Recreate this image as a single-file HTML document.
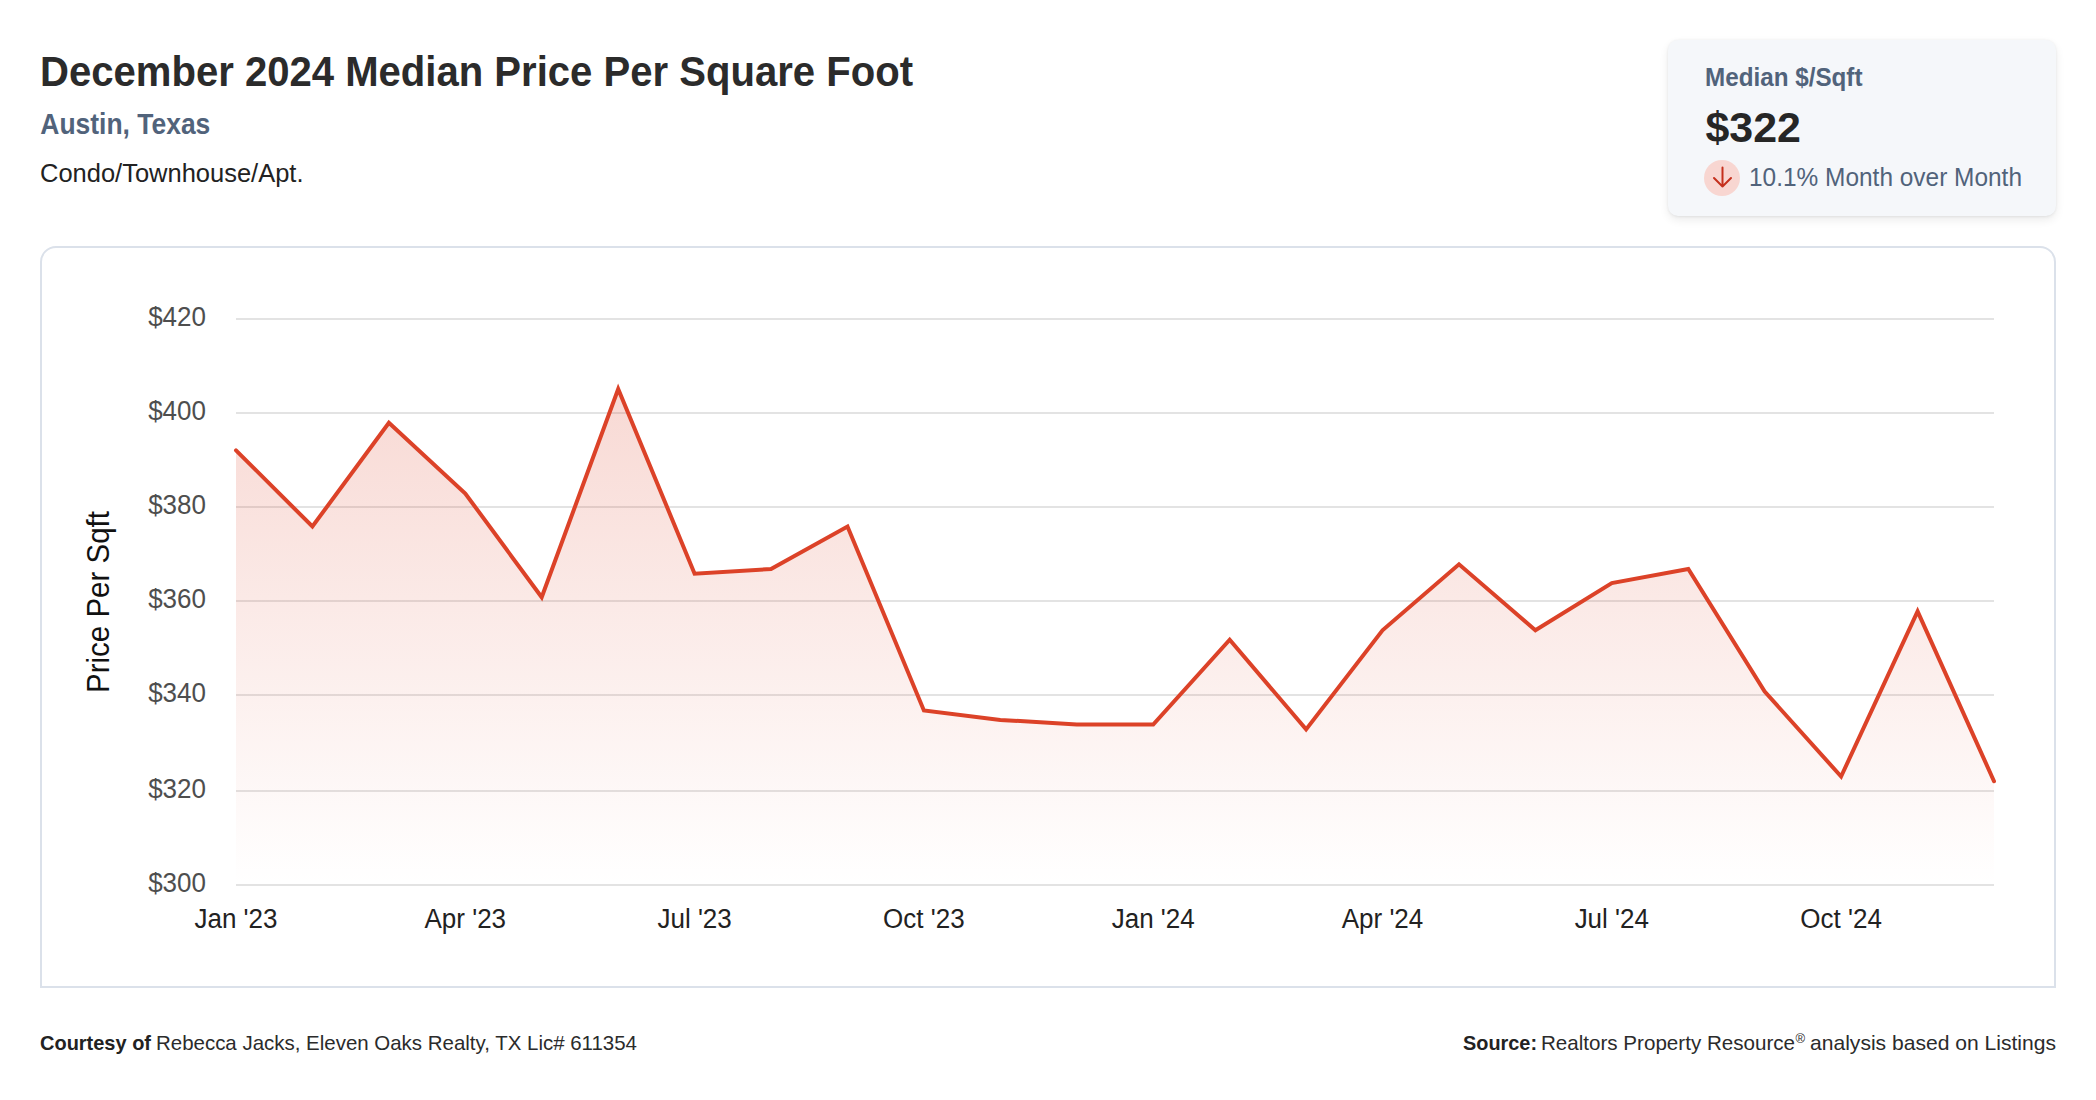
<!DOCTYPE html>
<html><head><meta charset="utf-8">
<style>
html,body{margin:0;padding:0;background:#fff;}
body{width:2096px;height:1100px;position:relative;overflow:hidden;font-family:"Liberation Sans",sans-serif;}
.card{position:absolute;left:1668px;top:40px;width:388px;height:176px;background:#f5f7fa;border-radius:10px;box-shadow:0 0 3px rgba(0,0,0,.06),0 4px 10px rgba(0,0,0,.08),0 2px 4px -2px rgba(0,0,0,.06);}
.frame{position:absolute;left:40px;top:246px;width:2016px;height:742px;box-sizing:border-box;border:2px solid #dbe1ea;border-bottom-left-radius:0;border-bottom-right-radius:0;border-top-left-radius:16px;border-top-right-radius:16px;}
svg{position:absolute;left:0;top:0;}
text{font-family:"Liberation Sans",sans-serif;}
</style></head>
<body>
<div class="card"></div>
<div class="frame"></div>
<svg width="2096" height="1100" viewBox="0 0 2096 1100">
<defs>
<linearGradient id="fill" x1="0" y1="389" x2="0" y2="885" gradientUnits="userSpaceOnUse">
<stop offset="0" stop-color="#dc4228" stop-opacity="0.2"/>
<stop offset="1" stop-color="#dc4228" stop-opacity="0"/>
</linearGradient>
</defs>
<!-- header -->
<text x="40" y="86" font-size="42" font-weight="bold" fill="#2b2b2b" textLength="873" lengthAdjust="spacingAndGlyphs">December 2024 Median Price Per Square Foot</text>
<text x="40.3" y="134" font-size="29" font-weight="bold" fill="#51637b" textLength="170" lengthAdjust="spacingAndGlyphs">Austin, Texas</text>
<text x="40" y="181.5" font-size="25" fill="#222" textLength="263.5" lengthAdjust="spacingAndGlyphs">Condo/Townhouse/Apt.</text>

<!-- card -->
<text x="1705" y="86" font-size="25" font-weight="bold" fill="#51637b" textLength="157.5" lengthAdjust="spacingAndGlyphs">Median $/Sqft</text>
<text x="1705.5" y="142" font-size="43" font-weight="bold" fill="#262626" textLength="95.5" lengthAdjust="spacingAndGlyphs">$322</text>
<circle cx="1722" cy="178" r="18" fill="#f8d6d1"/>
<path d="M1722.5 167.5 V186.5 M1714 178 L1722.5 186.5 L1731 178" fill="none" stroke="#c5301d" stroke-width="2" stroke-linecap="round" stroke-linejoin="round"/>
<text x="1749" y="186" font-size="25.5" fill="#51637b" textLength="273" lengthAdjust="spacingAndGlyphs">10.1% Month over Month</text>

<!-- grid -->
<g fill="#e3e3e3">
<rect x="236" y="318" width="1758" height="2"/>
<rect x="236" y="412" width="1758" height="2"/>
<rect x="236" y="506" width="1758" height="2"/>
<rect x="236" y="600" width="1758" height="2"/>
<rect x="236" y="694" width="1758" height="2"/>
<rect x="236" y="790" width="1758" height="2"/>
<rect x="236" y="884" width="1758" height="2"/>
</g>

<!-- area + line -->
<path d="M236,450.3 L312.4,526.5 L388.9,422.8 L465.3,493.5 L541.7,597.3 L618.2,389 L694.6,573.7 L771.0,569.0 L847.5,526.5 L923.9,710.5 L1000.3,719.9 L1076.8,724.6 L1153.2,724.6 L1229.7,639.7 L1306.1,729.4 L1382.5,630.3 L1459.0,564.3 L1535.4,630.3 L1611.8,583.1 L1688.3,569.0 L1764.7,691.6 L1841.1,776.5 L1917.6,611.4 L1994,781.2 L1994,885 L236,885 Z" fill="url(#fill)"/>
<polyline points="236,450.3 312.4,526.5 388.9,422.8 465.3,493.5 541.7,597.3 618.2,389 694.6,573.7 771.0,569.0 847.5,526.5 923.9,710.5 1000.3,719.9 1076.8,724.6 1153.2,724.6 1229.7,639.7 1306.1,729.4 1382.5,630.3 1459.0,564.3 1535.4,630.3 1611.8,583.1 1688.3,569.0 1764.7,691.6 1841.1,776.5 1917.6,611.4 1994,781.2" fill="none" stroke="#dc4228" stroke-width="4" stroke-linejoin="miter" stroke-linecap="round"/>

<!-- y labels -->
<g font-size="27.4" fill="#4e4e4e" text-anchor="end">
<text x="206" y="326" textLength="57.84" lengthAdjust="spacingAndGlyphs">$420</text>
<text x="206" y="420" textLength="57.84" lengthAdjust="spacingAndGlyphs">$400</text>
<text x="206" y="514" textLength="57.84" lengthAdjust="spacingAndGlyphs">$380</text>
<text x="206" y="608" textLength="57.84" lengthAdjust="spacingAndGlyphs">$360</text>
<text x="206" y="702" textLength="57.84" lengthAdjust="spacingAndGlyphs">$340</text>
<text x="206" y="798" textLength="57.84" lengthAdjust="spacingAndGlyphs">$320</text>
<text x="206" y="892" textLength="57.84" lengthAdjust="spacingAndGlyphs">$300</text>
</g>
<!-- x labels -->
<g font-size="27" fill="#222" text-anchor="middle">
<text x="236" y="928" textLength="83.03" lengthAdjust="spacingAndGlyphs">Jan '23</text>
<text x="465.3" y="928" textLength="81.58" lengthAdjust="spacingAndGlyphs">Apr '23</text>
<text x="694.6" y="928" textLength="74.34" lengthAdjust="spacingAndGlyphs">Jul '23</text>
<text x="923.9" y="928" textLength="81.56" lengthAdjust="spacingAndGlyphs">Oct '23</text>
<text x="1153.2" y="928" textLength="83.03" lengthAdjust="spacingAndGlyphs">Jan '24</text>
<text x="1382.5" y="928" textLength="81.58" lengthAdjust="spacingAndGlyphs">Apr '24</text>
<text x="1611.8" y="928" textLength="74.34" lengthAdjust="spacingAndGlyphs">Jul '24</text>
<text x="1841.1" y="928" textLength="81.56" lengthAdjust="spacingAndGlyphs">Oct '24</text>
</g>
<text transform="translate(109,602) rotate(-90)" font-size="32" fill="#111" text-anchor="middle" textLength="182" lengthAdjust="spacingAndGlyphs">Price Per Sqft</text>

<!-- footer -->
<g font-size="21" fill="#2b2b2b">
<text x="40" y="1050" font-weight="bold" fill="#222" textLength="111" lengthAdjust="spacingAndGlyphs">Courtesy of</text>
<text x="156" y="1050" textLength="481" lengthAdjust="spacingAndGlyphs">Rebecca Jacks, Eleven Oaks Realty, TX Lic# 611354</text>
<text x="1463" y="1050" font-weight="bold" fill="#222" textLength="74" lengthAdjust="spacingAndGlyphs">Source:</text>
<text x="1541" y="1050" textLength="254" lengthAdjust="spacingAndGlyphs">Realtors Property Resource</text>
<text x="1795.5" y="1043" font-size="13">®</text>
<text x="1810" y="1050" textLength="246" lengthAdjust="spacingAndGlyphs">analysis based on Listings</text>
</g>
</svg>
</body></html>
